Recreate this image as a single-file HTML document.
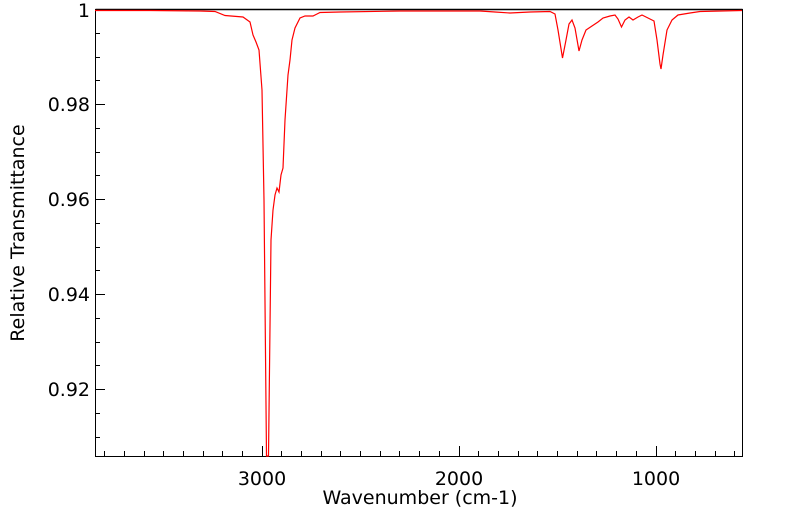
<!DOCTYPE html>
<html><head><meta charset="utf-8"><style>body{margin:0;background:#fff}svg{display:block}text{font-family:"DejaVu Sans","Liberation Sans",sans-serif;fill:#000}</style></head><body>
<svg width="799" height="516" xmlns="http://www.w3.org/2000/svg">
<g stroke="#000" stroke-width="1" fill="none">
<line x1="95.5" y1="9.5" x2="742.5" y2="9.5" stroke-width="1.5"/>
<line x1="95.5" y1="9" x2="95.5" y2="457"/>
<line x1="742.5" y1="9" x2="742.5" y2="457"/>
<line x1="95" y1="456.5" x2="743" y2="456.5"/>
</g>
<g stroke="#000" stroke-width="1">
<path d="M104.5 456v-5M124.5 456v-5M144.5 456v-5M163.5 456v-5M183.5 456v-5M203.5 456v-5M222.5 456v-5M242.5 456v-5M262.5 456v-10M281.5 456v-5M301.5 456v-5M321.5 456v-5M340.5 456v-5M360.5 456v-5M380.5 456v-5M399.5 456v-5M419.5 456v-5M439.5 456v-5M459.5 456v-10M478.5 456v-5M498.5 456v-5M518.5 456v-5M537.5 456v-5M557.5 456v-5M577.5 456v-5M596.5 456v-5M616.5 456v-5M636.5 456v-5M656.5 456v-10M675.5 456v-5M695.5 456v-5M715.5 456v-5M734.5 456v-5"/>
<path d="M95 33.5h5M95 57.5h5M95 80.5h5M95 104.5h10M95 128.5h5M95 152.5h5M95 175.5h5M95 199.5h10M95 223.5h5M95 247.5h5M95 270.5h5M95 294.5h10M95 318.5h5M95 342.5h5M95 365.5h5M95 389.5h10M95 413.5h5M95 437.5h5"/>
</g>
<polyline fill="none" stroke="#f00" stroke-width="1.2" points="95,10.5 150,10.5 200,11 215,11.5 225,15.5 243,17 250,22 253,35 256,42 259,50 262,90 264,200 266.5,456 268.5,456 271,240 273,210 275,195 277,188 279,192 281,175 283,168 285,120 288,75 290,60 292,40 295,28 300,18 305,16 313,16 317,14 320,12.5 340,12 400,11 480,11 495,12 510,13 530,12 550,11.5 555,14 558,30 562.5,58 566,40 569,24 572,20 575,28 579,51 582,40 586,30 592,26 598,22 603,18 610,16 615,15 618,19 621.5,27 625,20 629,17 633,20 638,17 642,15 646,17 650,19 654,21 657,40 660,64 661,69 663,55 667,30 672,20 678,15 690,13 700,11.5 742,10.5"/>
<text x="262" y="485" font-size="19" text-anchor="middle">3000</text>
<text x="459" y="485" font-size="19" text-anchor="middle">2000</text>
<text x="656" y="485" font-size="19" text-anchor="middle">1000</text>
<text x="90" y="17" font-size="19" text-anchor="end">1</text>
<text x="90" y="111" font-size="19" text-anchor="end">0.98</text>
<text x="90" y="206" font-size="19" text-anchor="end">0.96</text>
<text x="90" y="301" font-size="19" text-anchor="end">0.94</text>
<text x="90" y="396" font-size="19" text-anchor="end">0.92</text>
<text x="420" y="504" font-size="19" text-anchor="middle">Wavenumber (cm-1)</text>
<text transform="translate(24,233) rotate(-90)" font-size="19" text-anchor="middle">Relative Transmittance</text>
</svg>
</body></html>
